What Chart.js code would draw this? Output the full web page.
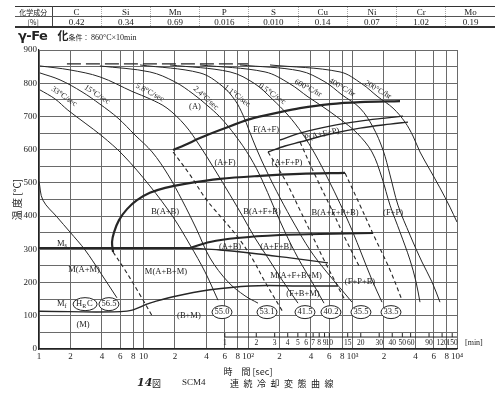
<!DOCTYPE html>
<html>
<head>
<meta charset="utf-8">
<script src="https://cdn.jsdelivr.net/npm/chart.js@4/dist/chart.umd.min.js"></script>
<style>
  body { margin: 0; background: #fff; }
  #wrap { position: relative; width: 500px; height: 395px; overflow: hidden; color: #222; font-family: "Liberation Serif", serif; }
  #cct { position: absolute; left: 0; top: 0; }
  #comp { position: absolute; left: 15px; top: 6px; width: 480px; border-collapse: collapse; table-layout: fixed;
          font-size: 9px; line-height: 8px; border-top: 1px solid #333; border-bottom: 2px solid #333; }
  #comp td { text-align: center; padding: 0; height: 9px; border-left: 1px dotted #aaa; }
  #comp td.head { font-family: "Noto Sans CJK JP", sans-serif; font-size: 7px; border-left: none; border-right: 1px solid #444; }
  #comp tr.top td { border-bottom: 1px solid #555; }
  #cond { position: absolute; left: 18px; top: 26px; white-space: nowrap; }
  #cond .fe { font: bold 13px "DejaVu Sans", sans-serif; letter-spacing: -0.5px; }
  #cond .ka { font: bold 11px "Noto Sans CJK JP", sans-serif; margin-left: 10px; }
  #cond .jk { font: 7px "Noto Sans CJK JP", sans-serif; }
  #cond .tx { font-size: 8px; }
  #caption { position: absolute; top: 377px; left: 0; width: 500px; font-size: 9px; white-space: nowrap; }
  #caption span { position: absolute; }
  .jp { font-family: "Noto Sans CJK JP", sans-serif; }
</style>
</head>
<body>
<div id="wrap">
  <canvas id="cct" width="500" height="395"></canvas>
  <table id="comp"></table>
  <div id="cond"><span class="fe">γ-Fe</span><span class="ka">化</span><span class="jk">条件： </span><span class="tx">860°C×10min</span></div>
  <div id="caption">
    <span style="left:137px;font:italic bold 11px 'DejaVu Serif',serif;top:-1px">14</span>
    <span class="jp" style="left:152px">図</span>
    <span style="left:182px">SCM4</span>
    <span class="jp" style="left:230px;letter-spacing:4.5px">連続冷却変態曲線</span>
  </div>
</div>
<script>
// chemical composition
const elements = ['C', 'Si', 'Mn', 'P', 'S', 'Cu', 'Ni', 'Cr', 'Mo'];
const contents = ['0.42', '0.34', '0.69', '0.016', '0.010', '0.14', '0.07', '1.02', '0.19'];

// axis ticks
const timeTicks = [1, 2, 4, 6, 8, 10, 20, 40, 60, 80, 100, 200, 400, 600, 800, 1000, 2000, 4000, 6000, 8000, 10000];
const decadeNames = {10: '10', 100: '10²', 1000: '10³', 10000: '10⁴'};
const minuteTicks = [1, 2, 3, 4, 5, 6, 7, 8, 9, 10, 15, 20, 30, 40, 50, 60, 90, 120, 150];

// cooling curves [time sec, temp C]
const fastCool = [[1.0, 505], [1.09, 448], [1.49, 397], [1.98, 352], [2.76, 298], [3.83, 232], [5.57, 154]];
const cool33 = [[1.02, 780], [1.42, 753], [1.89, 719], [2.76, 680], [4.01, 641], [6.37, 584], [11.5, 491], [19.2, 397], [27.9, 313], [38.8, 232], [51.6, 147]];
const cool15 = [[1.02, 831], [1.59, 810], [2.58, 774], [3.83, 737], [5.70, 695], [8.29, 644], [12.1, 593], [17.2, 524], [23.4, 448], [31.8, 364], [43.3, 274], [64.4, 202], [93.6, 160], [124.7, 138]];
const cool5_8 = [[1.02, 852], [1.98, 840], [3.83, 819], [7.94, 774], [11.5, 753], [16.8, 725], [24.9, 674], [34.7, 611], [48.3, 539], [67.3, 464], [87.6, 403], [116.7, 334], [155.4, 274], [211.5, 208], [300.9, 138]];
const cool2_4 = [[3.83, 852], [11.5, 834], [20.0, 804], [29.8, 768], [40.5, 734], [54.0, 698], [75.1, 644], [104.5, 578], [136.2, 509], [173.4, 433], [226, 352], [300.9, 274], [409.7, 202], [533.6, 138]];
const cool1_1 = [[9.26, 855], [34.7, 831], [56.4, 792], [75.1, 749], [89.6, 704], [102.2, 659], [121.9, 599], [152, 533], [202.5, 455], [281.7, 373], [392, 298], [545.5, 238], [759.5, 184], [989, 141]];
const cool0_5 = [[17.9, 855], [67.3, 834], [116.7, 798], [169.8, 753], [241.5, 704], [328.5, 650], [437.6, 587], [583, 512], [759.5, 438], [989, 358], [1233, 283], [1536, 208], [1915, 141]];
const cool600h = [[34.7, 855], [145.5, 834], [252.4, 798], [375, 759], [510.4, 731], [759.5, 692], [1104, 650], [1536, 593], [1915, 515], [2285, 433], [2849, 352], [3550, 268], [4055, 202], [4424, 141]];
const cool400h = [[83.8, 855], [314.5, 837], [545.5, 804], [793.6, 765], [1180, 725], [1571, 668], [1958, 599], [2285, 524], [2725, 433], [3550, 343], [4623, 262], [5762, 202], [6872, 141]];
const cool200h = [[162.4, 855], [759.5, 834], [1233, 798], [1753, 759], [2442, 725], [3180, 683], [3792, 641], [4424, 593], [5514, 539], [6872, 485], [8565, 427], [10000, 382]];

// transformation lines
const ferriteStart = [[19.2, 599], [24.9, 614], [34.7, 635], [54.0, 659], [104.5, 692], [202.5, 713], [314.5, 725], [609, 737], [1180, 743], [2849, 746]];
const pearliteUpper = [[202.5, 629], [314.5, 650], [609, 671], [1180, 686], [2046, 695], [3043, 701]];
const pearliteLower = [[155.4, 593], [226, 611], [314.5, 623], [609, 647], [1180, 665], [2285, 677], [3397, 683]];
const bainiteStart = [[5.11, 292], [5.0, 322], [5.23, 352], [5.83, 388], [6.95, 421], [8.66, 448], [11.5, 470], [16.1, 485], [24.9, 497], [54.0, 512], [130.3, 521], [314.5, 527], [848, 530]];
const msLine = [[1, 304], [27.9, 304]];
const bainiteUpper = [[27.9, 304], [43.3, 322], [78.5, 334], [202.5, 343], [488.6, 346], [1571, 349]];
const bainiteLower = [[27.9, 304], [54.0, 298], [104.5, 289], [252.4, 274], [583, 259]];
const mfLine = [[1, 114], [6.95, 114], [11.5, 138], [19.2, 157], [43.3, 178], [104.5, 190], [314.5, 190], [726.6, 190]];
const dashB = [[5.11, 292], [6.65, 238], [9.26, 163], [12.3, 96]];
const dashF = [[19.2, 593], [27.9, 524], [38.8, 455], [48.3, 418], [64.4, 373], [83.8, 328], [109.2, 274], [145.5, 202], [216.3, 111]];
const dashP1 = [[155.4, 593], [226, 509], [314.5, 418], [409.7, 343], [545.5, 262], [848, 147]];
const dashP2 = [[314.5, 623], [437.6, 524], [636.6, 418], [848, 334], [1180, 244]];
const dashB2 = [[848, 530], [1180, 433], [1641, 334], [2285, 238], [2978, 147]];
const austenitize = [[1.85, 858], [100, 858]];

// texts in the diagram [text, time, temp]
const rateLabels = [['33°C/sec', 1.74, 760, 35], ['15°C/sec', 3.59, 766, 33], ['5.8°C/sec', 11.5, 772, 28],
  ['2.4°C/sec', 39.6, 755, 42], ['1.1°C/sec', 78.5, 762, 38], ['0.5°C/sec', 170, 768, 35],
  ['600°C/hr', 375, 785, 28], ['400°C/hr', 793, 787, 30], ['200°C/hr', 1753, 780, 30]];
const regionLabels = [['(A)', 31.1, 728], ['(A+F)', 60.3, 560], ['F(A+F)', 148.6, 659], ['(A+F+P)', 236, 560],
  ['B(A+B)', 16.1, 412], ['B(A+F+B)', 136.2, 412], ['B(A+F+P+B)', 680, 409], ['(F+P)', 2442, 409],
  ['(A+B)', 67.3, 307], ['(A+F+B)', 185.5, 307], ['M(A+M)', 2.70, 238], ['M(A+B+M)', 16.4, 232],
  ['M(A+F+B+M)', 288, 220], ['(F+P+B)', 1180, 202], ['(F+B+M)', 335.8, 166], ['(M)', 2.64, 72], ['(B+M)', 27.2, 99]];
const hardness = [['56.5', 4.67, 135], ['55.0', 56.4, 111], ['53.1', 152, 111], ['41.5', 351, 111],
  ['40.2', 622, 111], ['35.5', 1205, 111], ['33.5', 2335, 111]];

// composition table
let comp = document.getElementById('comp');
let row1 = '<tr class="top"><td class="head">化学成分</td>' + elements.map(e => '<td>' + e + '</td>').join('') + '</tr>';
let row2 = '<tr><td class="head">[%]</td>' + contents.map(c => '<td>' + c + '</td>').join('') + '</tr>';
comp.innerHTML = '<colgroup><col style="width:37px">' + elements.map(() => '<col>').join('') + '</colgroup>' + row1 + row2;

let curve = (pts, width, dash, tension) => ({
  data: pts.map(p => ({x: p[0], y: p[1]})),
  showLine: true,
  pointRadius: 0,
  borderColor: '#262626',
  borderWidth: width,
  borderDash: dash || [],
  tension: tension === undefined ? 0.35 : tension
});

const coolings = [fastCool, cool33, cool15, cool5_8, cool2_4, cool1_1, cool0_5, cool600h, cool400h, cool200h];
let datasets = coolings.map(c => curve(c, 1));
datasets.push(curve(ferriteStart, 2.2), curve(pearliteUpper, 1.4), curve(pearliteLower, 1.4),
  curve(bainiteStart, 2.2), curve(msLine, 1.8, null, 0), curve(bainiteUpper, 2), curve(bainiteLower, 1.3),
  curve(mfLine, 1.5));
[dashB, dashF, dashP1, dashP2, dashB2].forEach(d => datasets.push(curve(d, 1.1, [4, 3])));
datasets.push(curve(austenitize, 1.2, [14, 5], 0));

let sub = (ctx, main, small, x, y) => {
  ctx.textAlign = 'left';
  let w = ctx.measureText(main).width;
  ctx.fillText(main, x, y);
  let f = ctx.font;
  ctx.font = '6px "Liberation Serif"';
  ctx.fillText(small, x + w, y + 2);
  let w2 = ctx.measureText(small).width;
  ctx.font = f;
  return w + w2;
};

const notes = {
  id: 'notes',
  afterDatasetsDraw(chart) {
    const {ctx, scales: {x, y}} = chart;
    ctx.save();
    ctx.fillStyle = '#222';
    ctx.strokeStyle = '#222';
    ctx.textBaseline = 'middle';
    ctx.font = '8px "Liberation Serif"';

    rateLabels.forEach(([txt, t, T, ang]) => {
      ctx.save();
      ctx.translate(x.getPixelForValue(t), y.getPixelForValue(T));
      ctx.rotate(ang * Math.PI / 180);
      ctx.textAlign = 'center';
      ctx.fillText(txt, 0, 0);
      ctx.restore();
    });

    ctx.font = '8.5px "Liberation Serif"';
    ctx.textAlign = 'center';
    regionLabels.forEach(([txt, t, T]) => ctx.fillText(txt, x.getPixelForValue(t), y.getPixelForValue(T)));

    // P(A+F+P) along the pearlite line
    ctx.save();
    ctx.translate(x.getPixelForValue(510), y.getPixelForValue(646));
    ctx.rotate(-13 * Math.PI / 180);
    ctx.fillText('P(A+F+P)', 0, 0);
    ctx.restore();

    // Ms, Mf
    sub(ctx, 'M', 's', x.getPixelForValue(1.62) - 4, y.getPixelForValue(318));
    sub(ctx, 'M', 'f', x.getPixelForValue(1.62) - 4, y.getPixelForValue(135));

    // hardness circles
    ctx.lineWidth = 1;
    let ring = (cx, cy, rx) => {
      ctx.beginPath();
      ctx.ellipse(cx, cy, rx, 6.5, 0, 0, Math.PI * 2);
      ctx.fillStyle = '#fff';
      ctx.fill();
      ctx.stroke();
      ctx.fillStyle = '#222';
    };
    let hx = x.getPixelForValue(2.76), hy = y.getPixelForValue(135);
    ring(hx, hy, 12);
    let wH = ctx.measureText('H').width;
    sub(ctx, 'H', 'R', hx - 9, hy);
    ctx.textAlign = 'left';
    ctx.fillText('C', hx + 2, hy);
    ctx.textAlign = 'center';
    hardness.forEach(([txt, t, T]) => {
      let cx = x.getPixelForValue(t), cy = y.getPixelForValue(T);
      ring(cx, cy, 10);
      ctx.textAlign = 'center';
      ctx.fillText(txt, cx, cy);
    });

    // minute scale inside the plot
    let my = y.getPixelForValue(36);
    let x0 = x.getPixelForValue(60);
    ctx.lineWidth = 1;
    ctx.beginPath();
    ctx.moveTo(x0, my);
    ctx.lineTo(x.right, my);
    minuteTicks.forEach(m => {
      let px = x.getPixelForValue(m * 60);
      ctx.moveTo(px, my);
      ctx.lineTo(px, my - 4);
    });
    ctx.stroke();
    ctx.font = '7.5px "Liberation Serif"';
    ctx.textAlign = 'center';
    minuteTicks.forEach(m => ctx.fillText(String(m), x.getPixelForValue(m * 60), my + 6));
    ctx.font = '8px "Liberation Serif"';
    ctx.textAlign = 'left';
    ctx.fillText('[min]', x.right + 8, my + 6);
    ctx.restore();
  }
};

const chart = new Chart(document.getElementById('cct'), {
  type: 'scatter',
  data: {datasets: datasets},
  options: {
    responsive: false,
    animation: false,
    layout: {padding: {top: 50, right: 43, left: 0, bottom: 0}},
    plugins: {legend: {display: false}, tooltip: {enabled: false}},
    scales: {
      x: {
        type: 'logarithmic',
        min: 1,
        max: 10000,
        afterBuildTicks: s => { s.ticks = timeTicks.map(v => ({value: v})); },
        afterFit: s => { s.height = 46; },
        ticks: {
          autoSkip: false, maxRotation: 0, padding: 2, color: '#222',
          font: {family: 'Liberation Serif', size: 9},
          callback: v => decadeNames[v] || String(Math.round(v / Math.pow(10, Math.floor(Math.log10(v) + 1e-9))))
        },
        grid: {color: '#6a6a6a', lineWidth: 1, drawTicks: false},
        border: {color: '#222', width: 1.2},
        title: {display: true, text: '時　間 [sec]', color: '#222',
          font: {family: 'Noto Sans CJK JP', size: 9}, padding: {top: 0, bottom: 18}}
      },
      y: {
        min: 0,
        max: 900,
        afterFit: s => { s.width = 39; },
        ticks: {
          stepSize: 50, padding: 2, color: '#222',
          font: {family: 'Liberation Serif', size: 9},
          callback: v => (v % 100 === 0 ? v : '')
        },
        grid: {color: '#6a6a6a', lineWidth: 1, drawTicks: false},
        border: {color: '#222', width: 1.2},
        title: {display: true, text: '温 度 [°C]', color: '#222',
          font: {family: 'Noto Sans CJK JP', size: 10}, padding: {top: 11, bottom: 0}}
      }
    }
  },
  plugins: [notes]
});
</script>
</body>
</html>
